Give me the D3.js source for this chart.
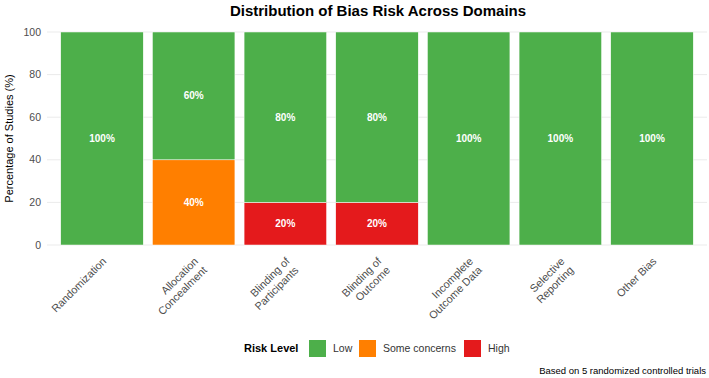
<!DOCTYPE html>
<html><head><meta charset="utf-8">
<script src="https://cdn.jsdelivr.net/npm/d3@7"></script>
<style>
html,body{margin:0;padding:0;background:#fff;}
svg text{font-family:"Liberation Sans",Arial,Helvetica,sans-serif;}
</style></head>
<body>
<svg id="chart" width="709" height="378"></svg>
<script>
const domains = ["Randomization","Allocation\nConcealment","Blinding of\nParticipants","Blinding of\nOutcome","Incomplete\nOutcome Data","Selective\nReporting","Other Bias"];
const riskLevels = ["High","Some concerns","Low"]; // stacking order bottom->top
const lowValues = [100,60,80,80,100,100,100];
const someValues = [0,40,0,0,0,0,0];
const highValues = [0,0,20,20,0,0,0];
const yTicks = [0,20,40,60,80,100];
const legendOrder = ["Low","Some concerns","High"];
const colors = {"Low":"#4DAF4A","Some concerns":"#FF7F00","High":"#E41A1C"};

(function(){
const svg = d3.select("#chart");
const pLeft = 47, pRight = 707, pTop = 32, pBottom = 245;

const rows = domains.map((d,i)=>({domain:d, "Low":lowValues[i], "Some concerns":someValues[i], "High":highValues[i]}));
const stack = d3.stack().keys(riskLevels)(rows);

const x = d3.scaleBand().domain(domains).range([pLeft, pRight]).paddingInner(0.1).paddingOuter(0.15);
const y = d3.scaleLinear().domain([0,100]).range([pBottom, pTop]);

svg.append("g").selectAll("line").data(yTicks).join("line")
  .attr("x1", pLeft).attr("x2", pRight)
  .attr("y1", d=>y(d)).attr("y2", d=>y(d))
  .attr("stroke", "#ebebeb").attr("stroke-width", 1);

svg.append("g").selectAll("text").data(yTicks).join("text")
  .attr("x", 41).attr("y", d=>y(d)).attr("dy","0.35em")
  .attr("text-anchor","end").attr("font-size","10.5px").attr("fill","#4d4d4d")
  .text(d=>d);

svg.append("text")
  .attr("transform", `translate(13,${(pTop+pBottom)/2}) rotate(-90)`)
  .attr("text-anchor","middle").attr("font-size","11px").attr("fill","#000")
  .text("Percentage of Studies (%)");

const layers = svg.append("g").selectAll("g").data(stack).join("g")
  .attr("fill", d=>colors[d.key]);
layers.selectAll("rect").data(d=>d.filter(v=>v[1]-v[0]>0)).join("rect")
  .attr("x", v=>x(v.data.domain))
  .attr("width", x.bandwidth())
  .attr("y", v=>y(v[1]))
  .attr("height", v=>y(v[0])-y(v[1]))
  .attr("stroke","#fff").attr("stroke-width",0.5);

const labelData = [];
stack.forEach(s=>s.forEach(v=>{ if(v[1]-v[0]>0) labelData.push({domain:v.data.domain, mid:(v[0]+v[1])/2, val:v[1]-v[0]}); }));
svg.append("g").selectAll("text").data(labelData).join("text")
  .attr("x", d=>x(d.domain)+x.bandwidth()/2)
  .attr("y", d=>y(d.mid)).attr("dy","0.35em")
  .attr("text-anchor","middle").attr("font-size","10px").attr("font-weight","bold").attr("fill","#fff")
  .text(d=>d.val+"%");

const xl = svg.append("g").selectAll("g").data(domains).join("g")
  .attr("transform", d=>`translate(${x(d)+x.bandwidth()/2+5},262) rotate(-45)`);
xl.each(function(d){
  const lines = d.split("\n");
  const t = d3.select(this).append("text").attr("text-anchor","end")
    .attr("font-size","10.8px").attr("fill","#4d4d4d");
  lines.forEach((ln,i)=>{
    t.append("tspan").attr("x",0).attr("y", i*12.5).text(ln);
  });
});

svg.append("text").attr("x", 378).attr("y", 16)
  .attr("text-anchor","middle").attr("font-size","15px").attr("font-weight","bold").attr("fill","#000")
  .text("Distribution of Bias Risk Across Domains");

const lg = svg.append("g");
lg.append("text").attr("x",244).attr("y",348).attr("dy","0.35em")
  .attr("font-size","11px").attr("font-weight","bold").text("Risk Level");
const legX = {"Low":309, "Some concerns":359, "High":464};
legendOrder.forEach(k=>{
  lg.append("rect").attr("x",legX[k]).attr("y",340).attr("width",17).attr("height",17).attr("fill",colors[k]);
  lg.append("text").attr("x",legX[k]+24).attr("y",348.5).attr("dy","0.35em")
    .attr("font-size","10.5px").attr("fill","#333").text(k);
});

svg.append("text").attr("x",706).attr("y",374).attr("text-anchor","end")
  .attr("font-size","9.5px").attr("fill","#000").text("Based on 5 randomized controlled trials");
})();
</script>
</body></html>
